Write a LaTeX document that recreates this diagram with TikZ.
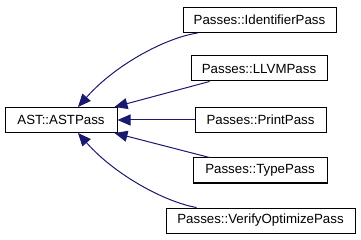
\documentclass[tikz,border=0pt]{standalone}
\usepackage{fontspec}
\setmainfont{Liberation Sans}
\usetikzlibrary{arrows.meta}
\definecolor{edgeblue}{HTML}{191970}
\begin{document}
\begin{tikzpicture}[x=1pt,y=-1pt,
  cls/.style={draw=black,line width=1pt,fill=white,minimum height=25pt,
    inner sep=0pt,font=\fontsize{13.3}{16}\selectfont},
  inh/.style={draw=edgeblue,line width=1pt,
    -{Triangle[length=13pt,width=11pt]}}]
\useasboundingbox (0,0) rectangle (361,240);
\node[cls,minimum width=112pt] (ast) at (61,120) {AST::ASTPass};
\node[cls,minimum width=153pt] (ident) at (259.5,20) {Passes::IdentifierPass};
\node[cls,minimum width=136pt] (llvm) at (259,68.5) {Passes::LLVMPass};
\node[cls,minimum width=131pt] (print) at (260.5,120) {Passes::PrintPass};
\node[cls,minimum width=134pt] (type) at (260,170.5) {Passes::TypePass};
\node[cls,minimum width=189pt] (verify) at (260.5,220.5) {Passes::VerifyOptimizePass};
% inheritance edges, tips on the base class
\draw[inh] ([xshift=15pt]ident.south west) .. controls (165,38) and (115,65) .. ([xshift=17pt]ast.north);
\draw[inh] ([xshift=19pt]llvm.south west) -- ([xshift=-3pt]ast.north east);
\draw[inh] (print.west) -- (ast.east);
\draw[inh] ([xshift=17pt]type.north west) -- ([xshift=-3pt]ast.south east);
\draw[inh] ([xshift=31pt]verify.north west) .. controls (165,202) and (115,175) .. ([xshift=17pt]ast.south);
\end{tikzpicture}
\end{document}
